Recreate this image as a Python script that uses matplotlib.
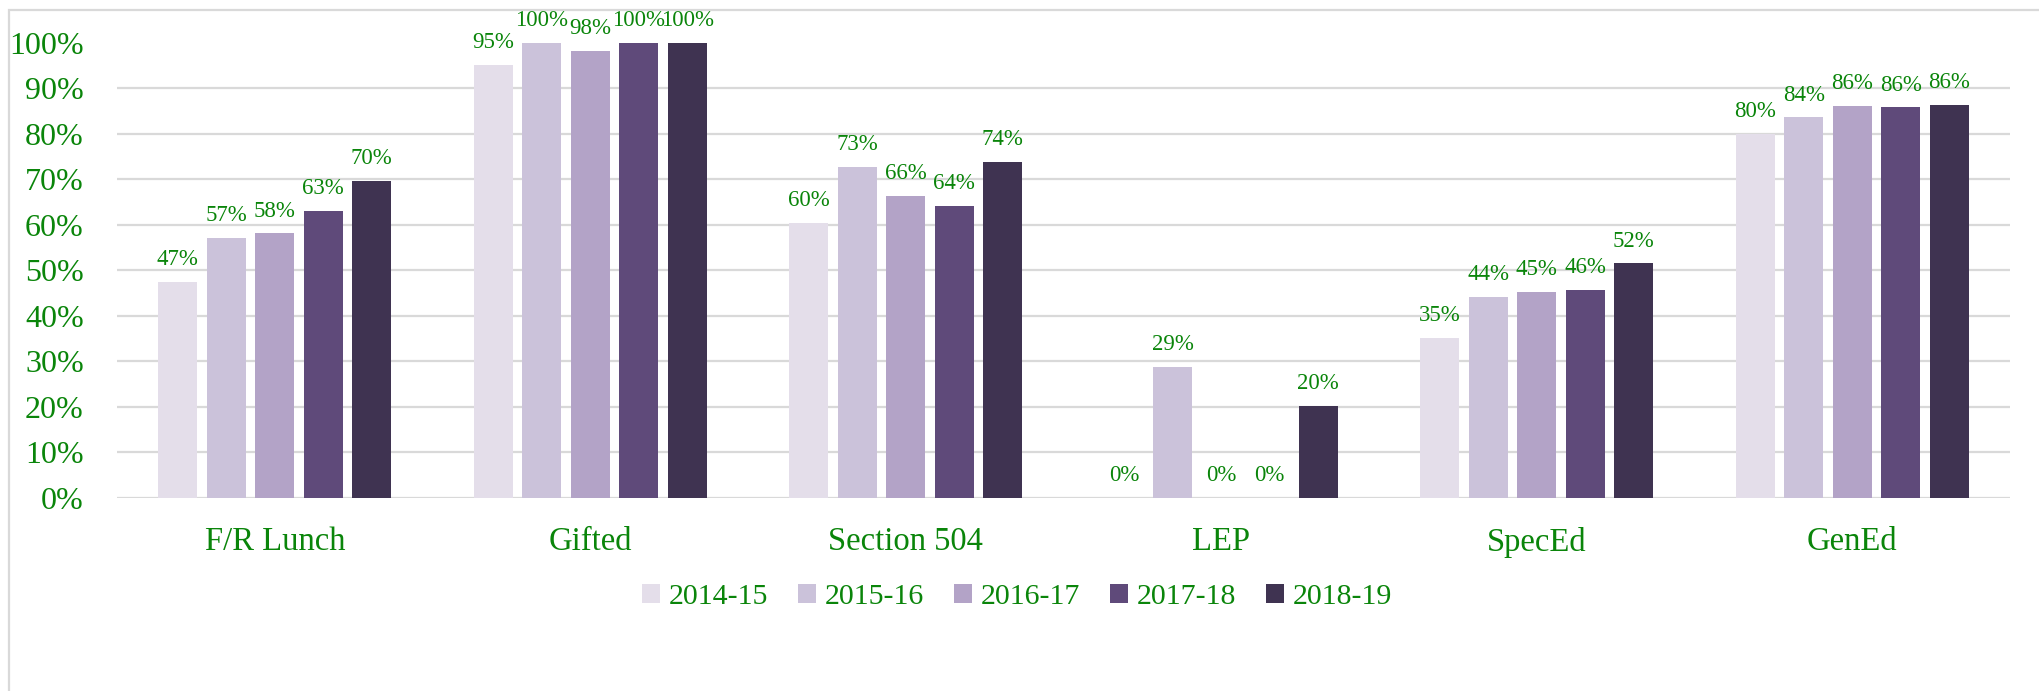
import numpy as np
import matplotlib
matplotlib.use("Agg")
import matplotlib.pyplot as plt
from matplotlib.transforms import Bbox, TransformedBbox
from matplotlib.patches import Rectangle

plt.rcParams['font.family'] = ['Liberation Serif', 'DejaVu Serif']

categories = ["F/R Lunch", "Gifted", "Section 504", "LEP", "SpecEd", "GenEd"]
years = ["2014-15", "2015-16", "2016-17", "2017-18", "2018-19"]

# share of students per year, one list per school year
y2014 = [0.474, 0.952, 0.604, 0.000, 0.351, 0.800]
y2015 = [0.572, 1.000, 0.727, 0.288, 0.441, 0.836]
y2016 = [0.581, 0.982, 0.664, 0.000, 0.452, 0.862]
y2017 = [0.630, 1.000, 0.641, 0.000, 0.456, 0.858]
y2018 = [0.697, 1.000, 0.739, 0.202, 0.515, 0.864]
series = [y2014, y2015, y2016, y2017, y2018]

colors = ["#E4DEEA", "#CBC2DA", "#B3A3C7", "#5F4A7A", "#3F3351"]
green = "#0A850A"
grid_col = "#D9D9D9"

fig = plt.figure(figsize=(20.39, 6.91), dpi=100)
ax = fig.add_axes([0.0574, 0.2797, 0.9284, 0.6583])

x = np.arange(len(categories))
step = 0.1537
width = 0.1236

# clip labels at the chart border like excel does
clip = TransformedBbox(Bbox([[0, 0], [1, 1 - 11.0 / 691]]), fig.transFigure)

for i, vals in enumerate(series):
    pos = x + (i - 2) * step
    ax.bar(pos, vals, width=width, color=colors[i], label=years[i], zorder=3)
    for p, v in zip(pos, vals):
        t = ax.annotate("%d%%" % round(v * 100), (p, v), xytext=(0, 8.5),
                        textcoords="offset points", ha="center", va="bottom",
                        fontsize=16.5, color=green, annotation_clip=False)
        t.set_clip_box(clip)
        t.set_clip_on(True)

ax.set_xlim(-0.5, len(categories) - 0.5)
ax.set_ylim(0, 1.0)
yticks = np.arange(0, 1.01, 0.1)
ax.set_yticks(yticks)
ax.set_yticklabels(["%d%%" % round(t * 100) for t in yticks])
for t in yticks[:-1]:
    ax.axhline(t, color=grid_col, lw=1.6, zorder=1)

ax.set_xticks(x)
ax.set_xticklabels(categories)
ax.tick_params(axis='x', length=0, pad=21, labelsize=23.5, labelcolor=green)
ax.tick_params(axis='y', length=0, pad=24, labelsize=23, labelcolor=green)
for s in ax.spines.values():
    s.set_visible(False)

fig.legend(loc="center", bbox_to_anchor=(1017 / 2039, 1 - 597 / 691), ncol=5,
           frameon=False, prop={'family': 'Liberation Serif', 'size': 21.5},
           labelcolor=green,
           handlelength=0.6, handleheight=0.6, handletextpad=0.3,
           columnspacing=1.0)

# chart area border (right and bottom edges fall outside the picture)
fig.patches.append(Rectangle((9.3 / 2039, -0.1), 1.2, 1.1 - 10 / 691,
                             transform=fig.transFigure, fill=False,
                             edgecolor=grid_col, lw=1.6))

fig.savefig("out.png", dpi=100)
